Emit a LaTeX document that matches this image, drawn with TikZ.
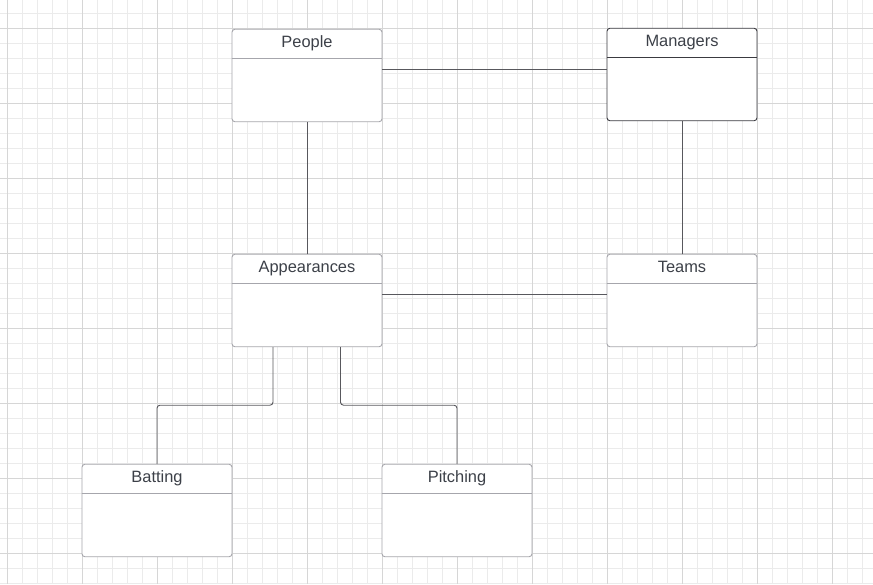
\documentclass[tikz,border=0pt]{standalone}
\usepackage{fontspec}
\setmainfont{Liberation Sans}
\usetikzlibrary{positioning}
\definecolor{minorgrid}{HTML}{EBEBEB}
\definecolor{majorgrid}{HTML}{D6D6D6}
\definecolor{boxline}{HTML}{A6A6AC}
\definecolor{darkline}{HTML}{3A3A40}
\definecolor{titletext}{HTML}{3C4048}

\begin{document}
\begin{tikzpicture}[x = 1pt, y = 1pt, line width = .9pt,
    entity/.style = {rectangle, rounded corners = 3pt, fill = white, draw = boxline, minimum width = 150pt, minimum height = 92.5pt, inner sep = 0pt},
    title/.style = {anchor = base, text = titletext, font = \fontsize{16.4}{18}\selectfont, inner sep = 0pt},
    link/.style = {draw = darkline!85, rounded corners = 3pt}]
    \useasboundingbox (0, 0) rectangle (873, -584);
    \fill[white] (0, 0) rectangle (873, -584);
    % background grid
    \foreach \k in {0, ..., 57} \draw[minorgrid] (7.3 + 15*\k, 0) -- (7.3 + 15*\k, -584);
    \foreach \k in {0, ..., 38} \draw[minorgrid] (0, -13.3 - 15*\k) -- (873, -13.3 - 15*\k);
    \foreach \k in {0, ..., 11} \draw[majorgrid] (7.3 + 75*\k, 0) -- (7.3 + 75*\k, -584);
    \foreach \k in {0, ..., 7} \draw[majorgrid] (0, -28.3 - 75*\k) -- (873, -28.3 - 75*\k);

    \node[entity] (people) at (307, -75.5) {};
    \node[entity, draw = darkline] (managers) at (682, -74.5) {};
    \node[entity] (app) at (307, -300.5) {};
    \node[entity] (teams) at (682, -300.5) {};
    \node[entity] (bat) at (157, -510.5) {};
    \node[entity] (pitch) at (457, -510.5) {};

    \foreach \b in {people, app, teams, bat, pitch}
        \draw[boxline] ([yshift=-30pt]\b.north west) -- ([yshift=-30pt]\b.north east);
    \draw[darkline] ([yshift=-30pt]managers.north west) -- ([yshift=-30pt]managers.north east);

    \node[title] (peopletitle) at ([yshift=-18.3pt]people.north) {People};
    \node[title] (managerstitle) at ([yshift=-18.3pt]managers.north) {Managers};
    \node[title] (apptitle) at ([yshift=-18.3pt]app.north) {Appearances};
    \node[title] (teamstitle) at ([yshift=-18.3pt]teams.north) {Teams};
    \node[title] (battitle) at ([yshift=-18.3pt]bat.north) {Batting};
    \node[title] (pitchtitle) at ([yshift=-18.3pt]pitch.north) {Pitching};

    \draw[link] ([yshift=6.5pt]people.east) -- ([yshift=6.5pt]people.east -| managers.west);
    \draw[link] ([yshift=6.5pt]app.east) -- ([yshift=6.5pt]app.east -| teams.west);
    \draw[link] (people.south) -- (app.north);
    \draw[link] (managers.south) -- (teams.north);
    \draw[link] ([xshift=-34pt]app.south) -- ++(0, -58pt) -| (bat.north);
    \draw[link] ([xshift=33.5pt]app.south) -- ++(0, -58pt) -| (pitch.north);
\end{tikzpicture}
\end{document}
